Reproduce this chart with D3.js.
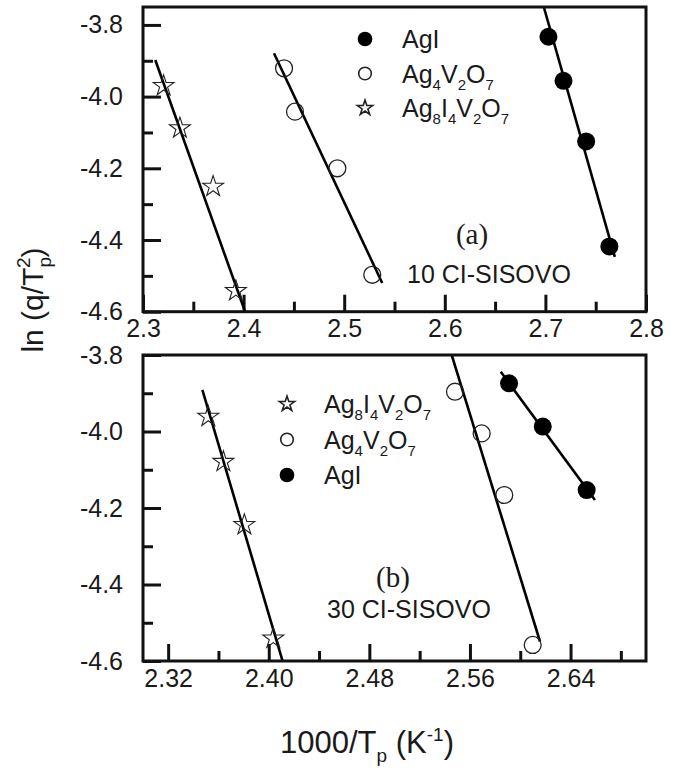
<!DOCTYPE html>
<html>
<head>
<meta charset="utf-8">
<script src="https://cdn.jsdelivr.net/npm/d3@7/dist/d3.min.js"></script>
<style>
	body { margin: 0; background: #fff; }
	text { font-family: "Liberation Sans", Arial, sans-serif; fill: #1a1a1a; }
</style>
</head>
<body>
<div id="chart"></div>
<script>

// panel (a) : 10 CI-SISOVO
const aAgIx = [2.703, 2.718, 2.7405, 2.7636];
const aAgIy = [-3.833, -3.956, -4.125, -4.418];
const aAgIfit = [[2.6984, -3.75], [2.769, -4.447]];

const aAg4x = [2.4402, 2.4511, 2.4932, 2.5279];
const aAg4y = [-3.921, -4.042, -4.200, -4.497];
const aAg4fit = [[2.4302, -3.879], [2.5378, -4.520]];

const aAg8x = [2.3205, 2.3367, 2.3697, 2.3923];
const aAg8y = [-3.970, -4.088, -4.251, -4.542];
const aAg8fit = [[2.3122, -3.898], [2.4015, -4.60]];

// panel (b) : 30 CI-SISOVO
const bAg8x = [2.3519, 2.3639, 2.3806, 2.4036];
const bAg8y = [-3.961, -4.079, -4.244, -4.541];
const bAg8fit = [[2.3472, -3.891], [2.4110, -4.60]];

const bAg4x = [2.5481, 2.5693, 2.5873, 2.6099];
const bAg4y = [-3.896, -4.005, -4.166, -4.558];
const bAg4fit = [[2.5455, -3.80], [2.6157, -4.549]];

const bAgIx = [2.5911, 2.6179, 2.6528];
const bAgIy = [-3.874, -3.987, -4.153];
const bAgIfit = [[2.5845, -3.844], [2.6594, -4.179]];

// ticks
const aXMajor = [2.3, 2.4, 2.5, 2.6, 2.7, 2.8];
const aXMinor = [2.35, 2.45, 2.55, 2.65, 2.75];
const bXMajor = [2.32, 2.40, 2.48, 2.56, 2.64];
const bXMinor = [2.36, 2.44, 2.52, 2.60, 2.68];
const yMajor = [-3.8, -4.0, -4.2, -4.4, -4.6];
const yMinor = [-3.9, -4.1, -4.3, -4.5];

let svg = d3.select('#chart').append('svg')
	.attr('width', 677)
	.attr('height', 771)
;

let left = 143, right = 646;

function zip(xs, ys)
{
	return xs.map((d,i) => [d, ys[i]]);
}

// plain hyphen instead of the unicode minus d3 uses
function fmt(spec)
{
	let f = d3.format(spec);
	return d => f(d).replace('\u2212', '-');
}

function drawPanel(id, xDom, yDom, top, bottom, xMajor, xMinor, xFmt, series, legend, label, sample)
{
	let x = d3.scaleLinear().domain(xDom).range([left, right]);
	let y = d3.scaleLinear().domain(yDom).range([bottom, top]);

	let g = svg.append('g').attr('id', id);

	g.append('clipPath')
		.attr('id', 'clip_' + id)
		.append('rect')
		.attr('x', left)
		.attr('y', top)
		.attr('width', right - left)
		.attr('height', bottom - top)
	;

	// ticks (inward)
	let xAx = d3.axisBottom(x).tickValues(xMajor).tickSize(-17).tickPadding(8).tickFormat(xFmt);
	let xAxMin = d3.axisBottom(x).tickValues(xMinor).tickSize(-10).tickFormat('');
	let yAx = d3.axisLeft(y).tickValues(yMajor).tickSize(-18).tickPadding(20).tickFormat(fmt('.1f'));
	let yAxMin = d3.axisLeft(y).tickValues(yMinor).tickSize(-10).tickFormat('');

	let axes = [
		[xAx, `translate(0,${bottom})`],
		[xAxMin, `translate(0,${bottom})`],
		[yAx, `translate(${left},0)`],
		[yAxMin, `translate(${left},0)`]
	];

	for(let i = 0; i < axes.length; i++)
	{
		let a = g.append('g')
			.attr('transform', axes[i][1])
			.call(axes[i][0])
		;
		a.select('.domain').remove();
		a.selectAll('line').attr('stroke', '#111').attr('stroke-width', 3);
		a.selectAll('text')
			.attr('fill', '#1a1a1a')
			.style('font-size', '25px')
			.style('font-family', '"Liberation Sans", Arial, sans-serif')
		;
	}

	// fit lines
	let line = d3.line().x(d => x(d[0])).y(d => y(d[1]));

	g.append('g')
		.attr('clip-path', `url(#clip_${id})`)
		.selectAll('path')
		.data(series)
		.enter()
		.append('path')
		.attr('d', d => line(d.fit))
		.attr('fill', 'none')
		.attr('stroke', '#000')
		.attr('stroke-width', 2.6)
	;

	// points
	for(let i = 0; i < series.length; i++)
	{
		let s = series[i];
		let pts = g.append('g')
			.selectAll('path')
			.data(s.pts)
			.enter()
			.append('path')
			.attr('transform', d => `translate(${x(d[0])},${y(d[1])})`)
		;
		styleMarker(pts, s.kind, false);
	}

	// frame
	g.append('rect')
		.attr('x', left)
		.attr('y', top)
		.attr('width', right - left)
		.attr('height', bottom - top)
		.attr('fill', 'none')
		.attr('stroke', '#111')
		.attr('stroke-width', 3)
	;

	// legend
	let leg = g.append('g');
	for(let i = 0; i < legend.items.length; i++)
	{
		let it = legend.items[i];
		let cy = legend.y + i * legend.step;
		let m = leg.append('path')
			.attr('transform', `translate(${legend.x},${cy})`)
		;
		styleMarker(m, it.kind, true);
		formula(leg, legend.x + 37, cy + 9, it.parts, 25, 15);
	}

	g.append('text')
		.attr('x', label.x)
		.attr('y', label.y)
		.attr('text-anchor', 'middle')
		.style('font-family', '"Liberation Serif", "Times New Roman", serif')
		.style('font-size', '29px')
		.text(label.text)
	;

	g.append('text')
		.attr('x', sample.x)
		.attr('y', sample.y)
		.style('font-size', '25px')
		.text(sample.text)
	;
}

function styleMarker(sel, kind, small)
{
	if(kind == 'filled')
	{
		sel.attr('d', d3.symbol(d3.symbolCircle, small ? 170 : 255)())
			.attr('fill', '#000')
			.attr('stroke', 'none');
	}
	else if(kind == 'open')
	{
		sel.attr('d', d3.symbol(d3.symbolCircle, small ? 125 : 225)())
			.attr('fill', 'none')
			.attr('stroke', '#222')
			.attr('stroke-width', small ? 1.6 : 1.3);
	}
	else
	{
		sel.attr('d', d3.symbol(d3.symbolStar, small ? 72 : 135)())
			.attr('fill', 'none')
			.attr('stroke', '#222')
			.attr('stroke-width', small ? 1.6 : 1.1);
	}
}

// text with subscripts
function formula(parent, x, y, parts, big, small)
{
	let t = parent.append('text')
		.attr('x', x)
		.attr('y', y)
		.style('font-size', big + 'px')
	;
	let down = false;
	for(let i = 0; i < parts.length; i++)
	{
		let p = parts[i];
		let sp = t.append('tspan').text(p[0]);
		if(p[1] && !down)
		{
			sp.attr('dy', 7).style('font-size', small + 'px');
			down = true;
		}
		else if(p[1])
		{
			sp.style('font-size', small + 'px');
		}
		else if(down)
		{
			sp.attr('dy', -7);
			down = false;
		}
	}
	return t;
}

let AgI = [['AgI']];
let Ag4 = [['Ag'], ['4', 1], ['V'], ['2', 1], ['O'], ['7', 1]];
let Ag8 = [['Ag'], ['8', 1], ['I'], ['4', 1], ['V'], ['2', 1], ['O'], ['7', 1]];

drawPanel('a', [2.3, 2.8], [-4.6, -3.75], 7, 311.7, aXMajor, aXMinor, fmt('.1f'),
	[
		{kind: 'star', pts: zip(aAg8x, aAg8y), fit: aAg8fit},
		{kind: 'open', pts: zip(aAg4x, aAg4y), fit: aAg4fit},
		{kind: 'filled', pts: zip(aAgIx, aAgIy), fit: aAgIfit}
	],
	{x: 365, y: 39, step: 34.5, items: [
		{kind: 'filled', parts: AgI},
		{kind: 'open', parts: Ag4},
		{kind: 'star', parts: Ag8}
	]},
	{x: 472, y: 244, text: '(a)'},
	{x: 407, y: 283, text: '10 CI-SISOVO'}
);

drawPanel('b', [2.30, 2.70], [-4.6, -3.8], 355, 661, bXMajor, bXMinor, fmt('.2f'),
	[
		{kind: 'star', pts: zip(bAg8x, bAg8y), fit: bAg8fit},
		{kind: 'open', pts: zip(bAg4x, bAg4y), fit: bAg4fit},
		{kind: 'filled', pts: zip(bAgIx, bAgIy), fit: bAgIfit}
	],
	{x: 287, y: 404, step: 35.5, items: [
		{kind: 'star', parts: Ag8},
		{kind: 'open', parts: Ag4},
		{kind: 'filled', parts: AgI}
	]},
	{x: 393, y: 587, text: '(b)'},
	{x: 327, y: 618, text: '30 CI-SISOVO'}
);

// axis titles
let yTitle = svg.append('text')
	.attr('transform', 'translate(43,300) rotate(-90)')
	.attr('text-anchor', 'middle')
	.style('font-size', '30px')
;
yTitle.append('tspan').text('ln (q/T');
yTitle.append('tspan').attr('dy', 8).style('font-size', '19px').text('p');
yTitle.append('tspan').attr('dx', -11).attr('dy', -21).style('font-size', '19px').text('2');
yTitle.append('tspan').attr('dy', 13).text(')');

let xTitle = svg.append('text')
	.attr('x', 367)
	.attr('y', 753)
	.attr('text-anchor', 'middle')
	.style('font-size', '31px')
;
xTitle.append('tspan').text('1000/T');
xTitle.append('tspan').attr('dy', 9).style('font-size', '19px').text('p');
xTitle.append('tspan').attr('dy', -9).text(' (K');
xTitle.append('tspan').attr('dy', -12).style('font-size', '19px').text('-1');
xTitle.append('tspan').attr('dy', 12).text(')');

</script>
</body>
</html>
